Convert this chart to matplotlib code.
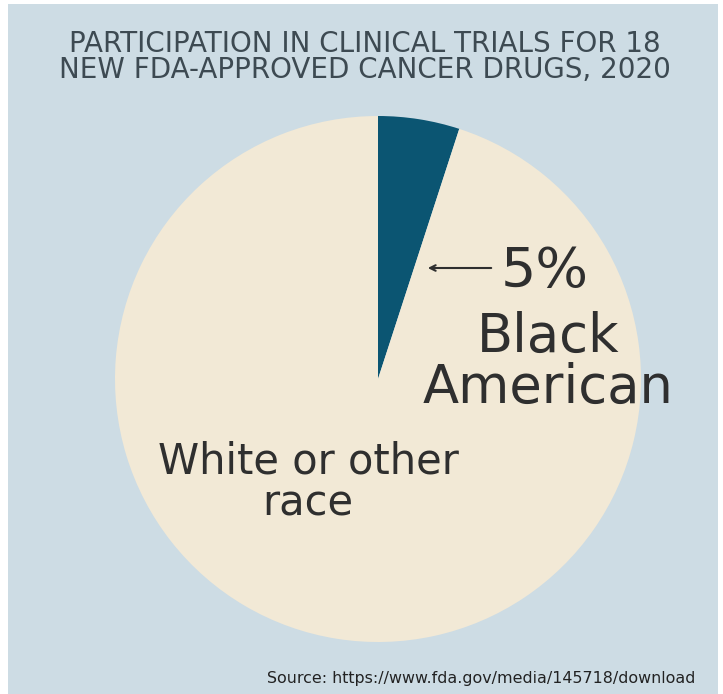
import matplotlib.pyplot as plt
from matplotlib.patches import Rectangle

# data
labels = ["Black American", "White or other race"]
shares = [5, 95]
colors = ["#0b5572", "#f2e9d6"]

title_lines = ["PARTICIPATION IN CLINICAL TRIALS FOR 18",
               "NEW FDA-APPROVED CANCER DRUGS, 2020"]
source = "Source: https://www.fda.gov/media/145718/download"

W, H = 723, 694
fig = plt.figure(figsize=(W / 100, H / 100), dpi=100, facecolor="white")

# panel background
fig.patches.append(Rectangle((8 / W, 0), 710 / W, 690 / H, transform=fig.transFigure,
                             facecolor="#cddce4", edgecolor="none", zorder=-10))

# pie axes (center ~ (378, 379), radius ~263 px)
r = 263
cx, cy = 378, 379
ax = fig.add_axes([(cx - r) / W, (H - cy - r) / H, 2 * r / W, 2 * r / H])
ax.pie(shares, colors=colors, startangle=90, counterclock=False, radius=1,
       wedgeprops=dict(linewidth=0))
ax.set_xlim(-1, 1)
ax.set_ylim(-1, 1)
ax.set_aspect("equal")
ax.axis("off")
ax.set_zorder(1)

def fx(px):
    return px / W

def fy(py):
    return 1 - py / H

dark = "#2f2f2f"

# title as one block, last line sitting on baseline y=78
fig.text(fx(365), fy(78), "\n".join(title_lines), ha="center", va="baseline",
         fontsize=20, color="#3d4a52", linespacing=0.9, zorder=5)

fig.text(fx(545), fy(287), "5%", ha="center", va="baseline", fontsize=40, color=dark, zorder=5)
fig.text(fx(548), fy(403), "Black\nAmerican", ha="center", va="baseline", fontsize=38,
         color=dark, linespacing=0.97, zorder=5)
fig.text(fx(308), fy(515), "White or other\nrace", ha="center", va="baseline", fontsize=30,
         color=dark, linespacing=1.0, zorder=5)

ax.annotate("", xy=(fx(425), fy(268)), xycoords="figure fraction",
            xytext=(fx(494), fy(268)), textcoords="figure fraction",
            arrowprops=dict(arrowstyle="->", color=dark, lw=1.5), zorder=5)

fig.text(fx(695), fy(683), source, ha="right", va="baseline", fontsize=11.4, color="#222222", zorder=5)

fig.savefig("out.png", dpi=100, facecolor=fig.get_facecolor())
